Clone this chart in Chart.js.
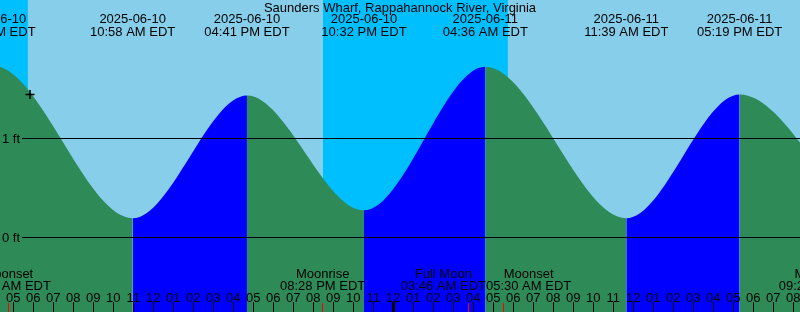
<!DOCTYPE html>
<html><head><meta charset="utf-8">
<script src="https://cdn.jsdelivr.net/npm/chart.js@4.4.1/dist/chart.umd.min.js"></script>
<style>html,body{margin:0;padding:0;background:#fff}canvas{display:block}</style>
</head><body>
<canvas id="c" width="800" height="312"></canvas>
<script>
const TITLE = 'Saunders Wharf, Rappahannock River, Virginia';
// Times are hours since 2025-06-10 00:00 EDT (high / low tides)
const extremeHours = [-2.2, 3.983, 10.967, 16.683, 22.533, 28.6, 35.65, 41.317, 47.0];
const extremeFeet  = [0.26, 1.74, 0.20, 1.44, 0.28, 1.73, 0.20, 1.45, 0.28];
const extremeDates = [null, '2025-06-10', '2025-06-10', '2025-06-10', '2025-06-10', '2025-06-11', '2025-06-11', '2025-06-11', null];
const extremeTimes = [null, '03:59 AM EDT', '10:58 AM EDT', '04:41 PM EDT', '10:32 PM EDT', '04:36 AM EDT', '11:39 AM EDT', '05:19 PM EDT', null];

const sunriseHours = [5.733, 29.733];
const sunsetHours  = [20.483, 44.483];

const moonHours = [4.75, 20.467, 27.767, 29.5, 45.4];
const moonNames = ['Moonset', 'Moonrise', 'Full Moon', 'Moonset', 'Moonrise'];
const moonTimes = ['04:45 AM EDT', '08:28 PM EDT', '03:46 AM EDT', '05:30 AM EDT', '09:24 PM EDT'];

const nowHour = 5.835;
const nowFeet = 1.45;

const firstTickHour = 5;
const hourLabels = ['05','06','07','08','09','10','11','12','01','02','03','04',
  '05','06','07','08','09','10','11','12','01','02','03','04',
  '05','06','07','08','09','10','11','12','01','02','03','04',
  '05','06','07','08'];

const yTickValues = [0, 1];
const yTickLabels = ['0 ft', '1 ft'];

const X_MIN = 4.335, X_MAX = 44.335;
const Y_MIN = -0.7475, Y_MAX = 2.404;

const DAY = '#87CEEB', NIGHT = '#00BFFF', EBB = '#2E8B57', FLOOD = '#0000FF';
const FONT = '13px "Liberation Sans", Arial, sans-serif';

const tidePoints = extremeHours.map((h, i) => ({x: h, y: extremeFeet[i]}));

const skyPlugin = {
  id: 'sky',
  beforeDatasetsDraw(chart) {
    const {ctx, chartArea: a, scales: {x}} = chart;
    const ev = [];
    sunriseHours.forEach(h => ev.push({h, day: true}));
    sunsetHours.forEach(h => ev.push({h, day: false}));
    ev.sort((p, q) => p.h - q.h);
    ctx.save();
    let start = a.left;
    let isDay = !ev[0].day;
    ev.forEach(e => {
      const px = x.getPixelForValue(e.h);
      ctx.fillStyle = isDay ? DAY : NIGHT;
      ctx.fillRect(start, a.top, Math.max(0, Math.min(px, a.right) - start), a.bottom - a.top);
      start = Math.max(a.left, Math.min(px, a.right));
      isDay = e.day;
    });
    ctx.fillStyle = isDay ? DAY : NIGHT;
    ctx.fillRect(start, a.top, a.right - start, a.bottom - a.top);
    ctx.restore();
  }
};

const overlayPlugin = {
  id: 'overlay',
  afterDatasetsDraw(chart) {
    const {ctx, scales: {x, y}} = chart;
    const H = chart.height;
    ctx.save();
    ctx.font = FONT;
    ctx.fillStyle = '#000';
    ctx.strokeStyle = '#000';
    ctx.lineWidth = 1;
    // level lines
    yTickValues.forEach((v, i) => {
      const py = Math.floor(y.getPixelForValue(v)) + 0.5;
      ctx.beginPath();
      ctx.moveTo(22, py);
      ctx.lineTo(chart.width, py);
      ctx.stroke();
      ctx.textAlign = 'left';
      ctx.textBaseline = 'middle';
      ctx.fillText(yTickLabels[i], 2, py + 0.5);
    });
    // title
    ctx.textAlign = 'center';
    ctx.textBaseline = 'alphabetic';
    ctx.fillText(TITLE, 400, 12);
    // tide extremes labels
    extremeHours.forEach((h, i) => {
      if (!extremeDates[i]) return;
      const px = x.getPixelForValue(h);
      ctx.fillText(extremeDates[i], px, 23);
      ctx.fillText(extremeTimes[i], px, 36);
    });
    // moon labels with overlap resolution
    const items = moonHours.map((h, i) => ({
      cx: x.getPixelForValue(h),
      w: Math.max(ctx.measureText(moonNames[i]).width, ctx.measureText(moonTimes[i]).width)
    }));
    for (let it = 0; it < 6; it++) {
      for (let i = 0; i < items.length - 1; i++) {
        const A = items[i], B = items[i + 1];
        const ov = (A.cx + A.w / 2) - (B.cx - B.w / 2);
        if (ov > 0) { A.cx -= ov / 2; B.cx += ov / 2; }
      }
    }
    items.forEach((it, i) => {
      ctx.fillText(moonNames[i], it.cx, 278);
      ctx.fillText(moonTimes[i], it.cx, 290);
    });
    // hour ticks
    hourLabels.forEach((lab, i) => {
      const h = firstTickHour + i;
      const px = x.getPixelForValue(h);
      const isMidnight = (h % 24) === 0;
      ctx.fillStyle = '#000';
      if (isMidnight) {
        ctx.fillRect(Math.floor(px) - 1, 302, 3, H - 302);
      } else {
        ctx.fillRect(Math.floor(px), 302, 1, H - 302);
      }
      ctx.fillText(lab, px, 302);
    });
    // moon event ticks
    ctx.fillStyle = '#FF0000';
    moonHours.forEach(h => {
      const px = x.getPixelForValue(h);
      if (px < 0 || px > chart.width) return;
      ctx.fillRect(Math.floor(px), 303, 1, H - 303);
    });
    ctx.restore();
  }
};

new Chart(document.getElementById('c').getContext('2d'), {
  type: 'line',
  data: {
    datasets: [
      {
        order: 0,
        data: [{x: nowHour, y: nowFeet}],
        showLine: false,
        clip: false,
        pointStyle: 'cross',
        pointRadius: 4.5,
        pointBorderColor: '#000',
        pointBorderWidth: 1.5,
        pointBackgroundColor: '#000'
      },
      {
        order: 1,
        data: tidePoints,
        fill: 'start',
        cubicInterpolationMode: 'monotone',
        borderColor: 'rgba(0,0,0,0)',
        borderWidth: 0,
        pointRadius: 0,
        backgroundColor: EBB,
        segment: {
          backgroundColor: c => c.p1.parsed.y > c.p0.parsed.y ? FLOOD : EBB
        }
      }
    ]
  },
  options: {
    responsive: false,
    animation: false,
    events: [],
    layout: {padding: 0, autoPadding: false},
    scales: {
      x: {type: 'linear', min: X_MIN, max: X_MAX, display: false},
      y: {type: 'linear', min: Y_MIN, max: Y_MAX, display: false}
    },
    plugins: {legend: {display: false}, tooltip: {enabled: false}, title: {display: false}}
  },
  plugins: [skyPlugin, overlayPlugin]
});
</script>
</body></html>
